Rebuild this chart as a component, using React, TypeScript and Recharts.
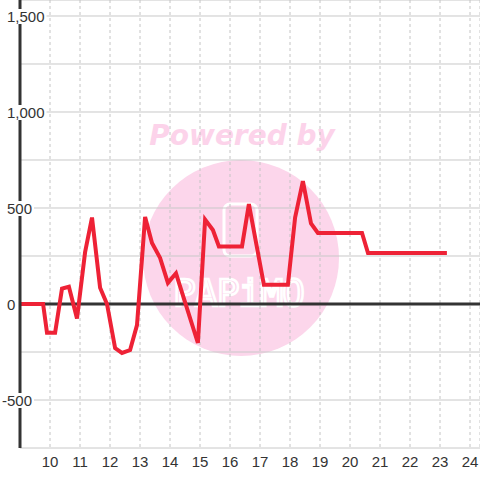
import React from 'react';
import { LineChart, Line, XAxis, YAxis, CartesianGrid, ReferenceLine } from 'recharts';

const xValues = [9.0, 9.77, 9.9, 10.17, 10.4, 10.63, 10.9, 11.17, 11.4, 11.67, 11.9, 12.17, 12.4, 12.67, 12.9, 13.17, 13.4, 13.67, 13.93, 14.2, 14.93, 15.17, 15.43, 15.63, 16.4, 16.63, 17.13, 17.93, 18.17, 18.43, 18.7, 18.93, 20.4, 20.6, 23.23];
const yValues = [0, 0, -150, -150, 80, 90, -75, 270, 450, 85, 0, -230, -255, -240, -110, 453, 318, 240, 110, 160, -203, 440, 385, 300, 300, 520, 100, 100, 450, 640, 420, 370, 370, 265, 265];
const xTicks = [10, 11, 12, 13, 14, 15, 16, 17, 18, 19, 20, 21, 22, 23, 24];
const yTicks = [-750, -500, -250, 0, 250, 500, 750, 1000, 1250, 1500];
const yLabelTicks = [-500, 0, 500, 1000, 1500];

const data = xValues.map((x, i) => ({ x, y: yValues[i] }));

const fmt = (v: number) => v.toLocaleString('en-US');

const textWidth = (s: string) => {
  let w = 0;
  for (const c of s) {
    if (c === ',') w += 4.17;
    else if (c === '-') w += 5;
    else w += 8.34;
  }
  return w;
};

const YTick = (props: any) => {
  const { y, payload } = props;
  const v = payload.value;
  if (!yLabelTicks.includes(v)) return null;
  const s = fmt(v);
  const x0 = v < 0 ? 2 : 7;
  const w = textWidth(s);
  return (
    <g>
      <rect x={0} y={y - 7} width={x0 + w + 2} height={15} fill="#fff" />
      <text x={x0} y={y + 1} dy="0.35em" textAnchor="start" fontSize={15} fill="#333" fontFamily="'Liberation Sans', Arial, sans-serif">
        {s}
      </text>
    </g>
  );
};

export default function App() {
  return (
    <div style={{ position: 'absolute', left: 0, top: 0, width: 480, height: 480, background: '#fff' }}>
      <svg width={480} height={480} style={{ position: 'absolute', left: 0, top: 0 }}>
        <circle cx={241} cy={258} r={98} fill="#fcd6eb" />
        <text x={242} y={145} textAnchor="middle" fontSize={28} fontWeight="bold" fontStyle="italic" fill="#fcd3ea" fontFamily="'DejaVu Sans', sans-serif">
          Powered by
        </text>
        <rect x={224} y={204} width={33} height={52} rx={6} fill="none" stroke="#fff" strokeWidth={3} />
        <text x={173} y={306} textLength={132} fontSize={38} fill="none" stroke="#fff" strokeWidth={2.5} fontFamily="'DejaVu Sans Mono', monospace">
          PAPiMO
        </text>
      </svg>
      <div style={{ position: 'absolute', left: 0, top: 0 }}>
        <LineChart width={480} height={480} data={data} margin={{ top: 0, right: 0, bottom: 0, left: 0 }}>
          <CartesianGrid horizontal={true} vertical={false} stroke="#c8c8c8" strokeWidth={1} />
          <CartesianGrid horizontal={false} vertical={true} stroke="#c4c4c4" strokeDasharray="3 3" />
          <XAxis
            type="number"
            dataKey="x"
            domain={[9, 24.3333]}
            allowDataOverflow
            ticks={xTicks}
            axisLine={false}
            tickLine={false}
            height={32}
            tick={{ fontSize: 15, fill: '#333', fontFamily: "'Liberation Sans', Arial, sans-serif" }}
          />
          <YAxis
            type="number"
            domain={[-750, 1583.333]}
            allowDataOverflow
            ticks={yTicks}
            width={20}
            axisLine={{ stroke: '#333', strokeWidth: 3 }}
            tickLine={false}
            tick={<YTick />}
          />
          <ReferenceLine y={0} stroke="#333" strokeWidth={3} />
          <Line type="linear" dataKey="y" stroke="#ee2236" strokeWidth={4} dot={false} isAnimationActive={false} />
        </LineChart>
      </div>
    </div>
  );
}
